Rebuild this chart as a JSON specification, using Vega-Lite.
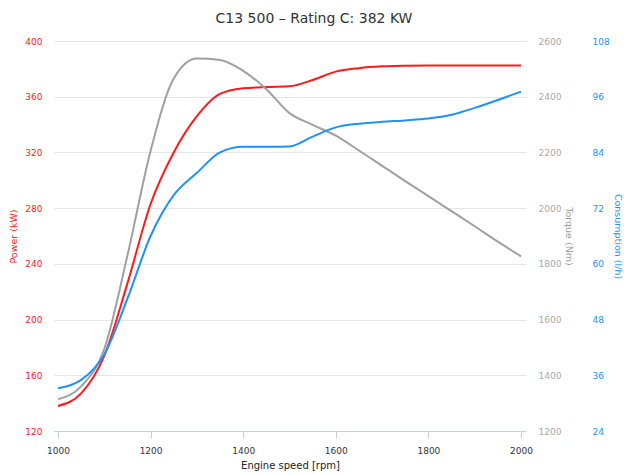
{
  "$schema": "https://vega.github.io/schema/vega-lite/v6.json",
  "width": 472,
  "height": 390,
  "autosize": {"type": "none"},
  "padding": {"left": 54, "top": 41, "right": 98, "bottom": 44},
  "title": {
    "text": "C13 500 – Rating C: 382 KW",
    "font": "DejaVu Sans",
    "fontSize": 14,
    "fontWeight": "normal",
    "color": "#333333",
    "anchor": "middle",
    "dx": 24,
    "offset": 11
  },
  "config": {
    "view": {"stroke": null},
    "axis": {"labelFont": "DejaVu Sans", "titleFont": "DejaVu Sans", "titleFontWeight": "normal"}
  },
  "data": {
    "values": [
      {"rpm": 1000, "power": 138, "torque": 1314, "consumption": 33.2},
      {"rpm": 1050, "power": 147, "torque": 1360, "consumption": 35},
      {"rpm": 1100, "power": 174, "torque": 1495, "consumption": 40.5},
      {"rpm": 1150, "power": 226, "torque": 1830, "consumption": 52.5},
      {"rpm": 1200, "power": 283, "torque": 2205, "consumption": 66},
      {"rpm": 1250, "power": 320, "torque": 2465, "consumption": 74.8},
      {"rpm": 1300, "power": 346, "torque": 2537, "consumption": 79.6},
      {"rpm": 1350, "power": 362, "torque": 2532, "consumption": 84},
      {"rpm": 1400, "power": 366, "torque": 2493, "consumption": 85.2},
      {"rpm": 1450, "power": 367, "torque": 2427, "consumption": 85.2},
      {"rpm": 1500, "power": 367.5, "torque": 2341, "consumption": 85.3},
      {"rpm": 1550, "power": 372, "torque": 2299, "consumption": 87.4},
      {"rpm": 1600, "power": 378, "torque": 2260, "consumption": 89.4},
      {"rpm": 1650, "power": 380.5, "torque": 2207, "consumption": 90.2},
      {"rpm": 1700, "power": 381.8, "torque": 2152, "consumption": 90.6},
      {"rpm": 1750, "power": 382.3, "torque": 2097, "consumption": 90.9},
      {"rpm": 1800, "power": 382.5, "torque": 2043, "consumption": 91.3},
      {"rpm": 1850, "power": 382.5, "torque": 1989, "consumption": 92.1},
      {"rpm": 1900, "power": 382.5, "torque": 1935, "consumption": 93.6},
      {"rpm": 1950, "power": 382.5, "torque": 1880, "consumption": 95.3},
      {"rpm": 2000, "power": 382.5, "torque": 1827, "consumption": 97.1}
    ]
  },
  "encoding": {
    "x": {
      "field": "rpm",
      "type": "quantitative",
      "scale": {"domain": [991.4, 2010.8], "nice": false, "zero": false},
      "axis": {
        "title": "Engine speed [rpm]",
        "values": [1000, 1200, 1400, 1600, 1800, 2000],
        "format": "d",
        "grid": false,
        "domainColor": "#C0D0E0",
        "tickColor": "#C0D0E0",
        "tickSize": 7,
        "labelPadding": 8,
        "labelFontSize": 9,
        "labelColor": "#333333",
        "titleFontSize": 10,
        "titleColor": "#222222",
        "titlePadding": 5
      }
    }
  },
  "layer": [
    {
      "mark": {"type": "line", "interpolate": "monotone", "color": "#FF1a1a", "strokeWidth": 2},
      "encoding": {
        "y": {
          "field": "power",
          "type": "quantitative",
          "scale": {"domain": [120, 400], "nice": false, "zero": false},
          "axis": {
            "title": "Power (kW)",
            "orient": "left",
            "values": [120, 160, 200, 240, 280, 320, 360, 400],
            "grid": true,
            "gridColor": "#E6E6E6",
            "domain": false,
            "ticks": false,
            "labelPadding": 12,
            "labelFontSize": 9,
            "labelColor": "#FF2222",
            "titleColor": "#FF2222",
            "titleFontSize": 9.5,
            "titlePadding": 6
          }
        }
      }
    },
    {
      "mark": {"type": "line", "interpolate": "monotone", "color": "#A0A0A0", "strokeWidth": 2},
      "encoding": {
        "y": {
          "field": "torque",
          "type": "quantitative",
          "scale": {"domain": [1200, 2600], "nice": false, "zero": false},
          "axis": {
            "title": "Torque (Nm)",
            "orient": "right",
            "values": [1200, 1400, 1600, 1800, 2000, 2200, 2400, 2600],
            "format": "d",
            "grid": false,
            "domain": false,
            "ticks": false,
            "labelPadding": 12,
            "labelFontSize": 9,
            "labelColor": "#A8A8A8",
            "titleColor": "#A0A0A0",
            "titleFontSize": 9.5,
            "titlePadding": 3
          }
        }
      }
    },
    {
      "mark": {"type": "line", "interpolate": "monotone", "color": "#1E90FF", "strokeWidth": 2},
      "encoding": {
        "y": {
          "field": "consumption",
          "type": "quantitative",
          "scale": {"domain": [24, 108], "nice": false, "zero": false},
          "axis": {
            "title": "Consumption (l/h)",
            "orient": "right",
            "offset": 54,
            "values": [24, 36, 48, 60, 72, 84, 96, 108],
            "grid": false,
            "domain": false,
            "ticks": false,
            "labelPadding": 12,
            "labelFontSize": 9,
            "labelColor": "#1E90FF",
            "titleColor": "#1E90FF",
            "titleFontSize": 9.5,
            "titlePadding": 3
          }
        }
      }
    }
  ],
  "resolve": {"scale": {"y": "independent"}, "axis": {"y": "independent"}}
}
